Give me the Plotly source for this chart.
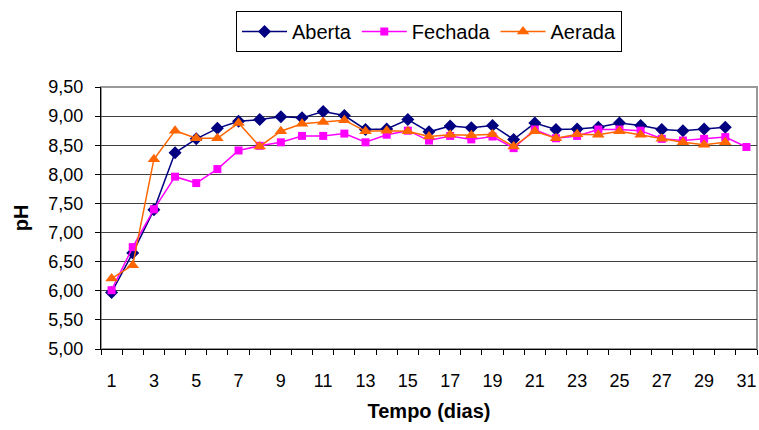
import plotly.graph_objects as go

days = list(range(1, 32))

aberta = [5.97, 6.65, 7.39, 8.37, 8.61, 8.79, 8.91, 8.94, 8.99, 8.97, 9.08, 9.01,
          8.77, 8.78, 8.94, 8.73, 8.83, 8.80, 8.84, 8.60, 8.88, 8.77, 8.78, 8.81,
          8.88, 8.84, 8.77, 8.75, 8.78, 8.81, None]
fechada = [6.01, 6.75, 7.40, 7.96, 7.85, 8.09, 8.41, 8.49, 8.55, 8.66, 8.66, 8.70,
           8.55, 8.68, 8.75, 8.58, 8.66, 8.60, 8.65, 8.45, 8.77, 8.62, 8.66, 8.77,
           8.77, 8.75, 8.61, 8.58, 8.61, 8.64, 8.47]
aerada = [6.21, 6.44, 8.26, 8.75, 8.62, 8.62, 8.88, 8.48, 8.74, 8.87, 8.90, 8.93,
          8.74, 8.75, 8.74, 8.65, 8.68, 8.67, 8.69, 8.48, 8.74, 8.62, 8.69, 8.68,
          8.74, 8.68, 8.61, 8.55, 8.51, 8.55, None]

x_tick_vals = list(range(1, 32, 2))
x_tick_text = [str(v) for v in x_tick_vals]
y_tick_vals = [5.0, 5.5, 6.0, 6.5, 7.0, 7.5, 8.0, 8.5, 9.0, 9.5]
y_tick_text = ["5,00", "5,50", "6,00", "6,50", "7,00", "7,50", "8,00", "8,50", "9,00", "9,50"]

font = "Liberation Sans, Arial, sans-serif"

fig = go.Figure()
fig.add_trace(go.Scatter(x=days, y=aberta, name="Aberta", mode="lines+markers",
                         line=dict(color="#000080", width=1.5),
                         marker=dict(symbol="diamond", size=10, color="#000080")))
fig.add_trace(go.Scatter(x=days, y=fechada, name="Fechada", mode="lines+markers",
                         line=dict(color="#FF00FF", width=1.5),
                         marker=dict(symbol="square", size=8, color="#FF00FF")))
fig.add_trace(go.Scatter(x=days, y=aerada, name="Aerada", mode="lines+markers",
                         line=dict(color="#FF6600", width=1.5),
                         marker=dict(symbol="triangle-up", size=11, color="#FF6600")))

fig.update_layout(
    width=759, height=430,
    margin=dict(l=101, r=2, t=87, b=81),
    paper_bgcolor="white", plot_bgcolor="white",
    font=dict(family=font, size=18, color="black"),
    showlegend=True,
    legend=dict(orientation="h", x=0.5, xanchor="center", y=1.29, yanchor="top",
                bordercolor="black", borderwidth=1, bgcolor="white",
                font=dict(size=20), itemwidth=45, tracegroupgap=0),
    xaxis=dict(range=[0.5, 31.5], tickmode="array", tickvals=x_tick_vals, ticktext=x_tick_text,
               ticks="", showgrid=False, zeroline=False,
               showline=True, linecolor="black", linewidth=1,
               minor=dict(tickmode="array", tickvals=[i + 0.5 for i in range(0, 32)],
                          ticks="outside", ticklen=5, tickcolor="black", showgrid=False),
               ticklabelstandoff=15,
               title=dict(text="<b>Tempo (dias)</b>", font=dict(size=20), standoff=14),
               tickfont=dict(size=18)),
    yaxis=dict(range=[5.0, 9.5], tickmode="array", tickvals=y_tick_vals, ticktext=y_tick_text,
               ticks="outside", ticklen=5, tickcolor="black",
               showgrid=True, gridcolor="#404040", gridwidth=1, zeroline=False,
               showline=True, linecolor="black", linewidth=1,
               ticklabelstandoff=8,
               title=dict(text="<b>pH</b>", font=dict(size=20), standoff=14),
               tickfont=dict(size=18)),
)
fig.add_shape(type="rect", xref="paper", yref="paper", x0=0, y0=0, x1=1, y1=1,
              line=dict(color="#999999", width=2), layer="below")

fig.write_html("out.html", config={"displayModeBar": False},
               post_script="document.body.style.margin='0';document.body.style.overflow='hidden';")
